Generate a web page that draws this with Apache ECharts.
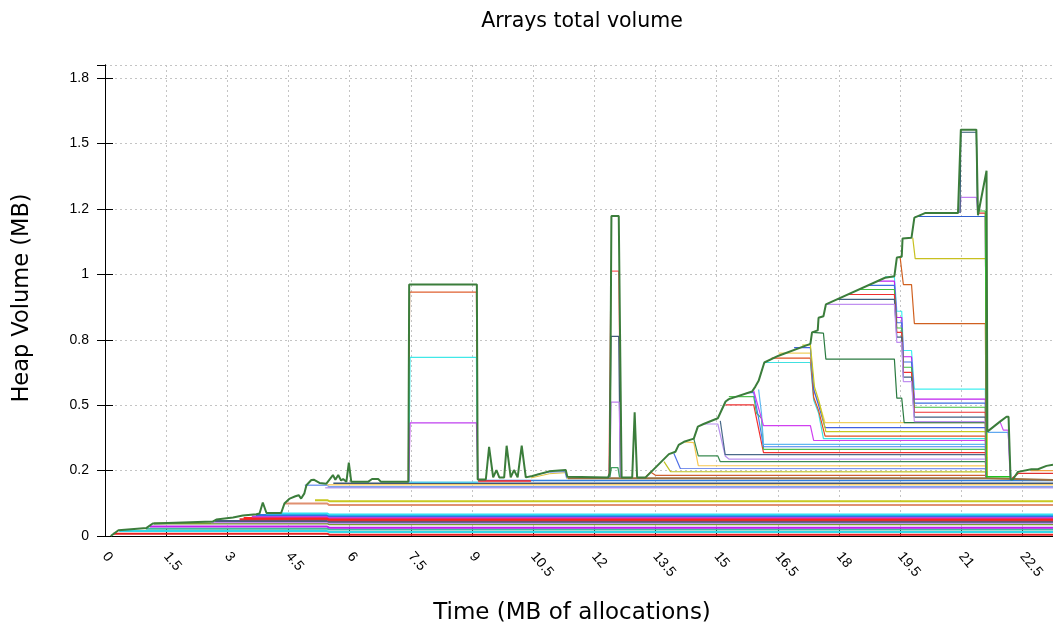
<!DOCTYPE html>
<html>
<head>
<meta charset="utf-8">
<script src="https://cdn.jsdelivr.net/npm/echarts@6/dist/echarts.min.js"></script>
<style>
  html, body { margin: 0; padding: 0; background: #fff; }
  #chart { width: 1053px; height: 629px; }
</style>
</head>
<body>
<div id="chart"></div>
<script>
// y tick labels as printed on the original plot (ticks every 0.25 MB)
var yTickLabels = ['0', '0.2', '0.5', '0.8', '1', '1.2', '1.5', '1.8'];

// ---- total volume (top line) : [MB of allocations, MB]
var totalVolume = [[0.14,0],[0.33,0.022],[1.02,0.031],[1.17,0.048],[2.64,0.055],[2.73,0.063],[3.14,0.071],[3.38,0.078],
  [3.71,0.083],[3.79,0.086],[3.87,0.128],[3.96,0.088],[4.32,0.088],[4.40,0.124],[4.53,0.143],[4.67,0.152],[4.75,0.156],
  [4.81,0.143],[4.89,0.163],[4.94,0.194],[5.06,0.214],[5.12,0.215],[5.26,0.203],[5.43,0.200],[5.59,0.233],[5.65,0.215],
  [5.72,0.233],[5.79,0.212],[5.84,0.218],[5.92,0.207],[5.98,0.28],[6.04,0.207],[6.45,0.207],[6.55,0.218],[6.70,0.218],
  [6.77,0.207],[7.44,0.207],[7.46,0.961],[9.12,0.961],[9.14,0.216],[9.34,0.216],[9.42,0.341],[9.52,0.224],[9.60,0.252],
  [9.67,0.224],[9.79,0.224],[9.85,0.345],[9.95,0.224],[10.03,0.252],[10.12,0.224],[10.22,0.345],[10.32,0.224],
  [10.48,0.229],[10.89,0.247],[11.30,0.252],[11.34,0.226],[12.34,0.224],[12.38,0.24],[12.42,1.223],[12.60,1.223],
  [12.67,0.224],[12.93,0.224],[12.99,0.473],[13.05,0.224],[13.26,0.224],[13.83,0.313],[13.99,0.322],[14.07,0.348],
  [14.20,0.36],[14.44,0.372],[14.54,0.418],[14.68,0.428],[15.03,0.45],[15.22,0.514],[15.30,0.523],[15.87,0.552],
  [15.95,0.571],[16.03,0.593],[16.17,0.663],[16.52,0.689],[17.30,0.734],[17.34,0.778],[17.48,0.786],[17.50,0.834],
  [17.62,0.84],[17.68,0.885],[19.13,0.987],[19.36,0.993],[19.42,1.064],[19.54,1.067],[19.56,1.137],[19.78,1.14],
  [19.85,1.217],[20.11,1.234],[20.92,1.234],[20.99,1.553],[21.37,1.553],[21.41,1.226],[21.62,1.396],[21.64,0.399],
  [21.95,0.437],[22.11,0.456],[22.16,0.456],[22.21,0.216],[22.27,0.217],[22.39,0.245],[22.72,0.255],[22.88,0.255],
  [23.09,0.268],[23.25,0.272]];

// ---- long lived arrays near the bottom
var lowRed = [[0.2,0.009],[5.45,0.009],[5.5,0.005],[23.3,0.005]];
var lowCyan = [[0.35,0.019],[5.45,0.019],[5.5,0.015],[23.3,0.015]];
var lowTeal = [[1.0,0.028],[5.45,0.028],[5.5,0.025],[23.3,0.025]];
var lowMagenta = [[1.1,0.036],[5.45,0.036],[5.5,0.032],[23.3,0.032]];
var lowOlive = [[1.2,0.048],[5.45,0.048],[5.5,0.045],[23.3,0.045]];
var lowLilac = [[2.6,0.053],[5.45,0.053],[5.5,0.050],[23.3,0.050]];
var lowSlate = [[2.7,0.057],[5.45,0.057],[5.5,0.054],[23.3,0.054]];
var lowRed2 = [[3.3,0.064],[5.45,0.064],[5.5,0.060],[23.3,0.060]];
var lowRed3 = [[3.4,0.069],[5.45,0.069],[5.5,0.065],[23.3,0.065]];
var lowMagenta2 = [[3.6,0.075],[5.45,0.075],[5.5,0.071],[23.3,0.071]];
var lowBlue = [[3.7,0.080],[5.45,0.080],[5.5,0.076],[23.3,0.076]];
var lowCyan2 = [[3.95,0.086],[5.45,0.086],[5.5,0.082],[23.3,0.082]];
var midSalmon = [[4.4,0.124],[5.45,0.124],[5.5,0.118],[23.3,0.118]];
var midOlive = [[5.15,0.137],[5.45,0.137],[5.5,0.133],[23.3,0.133]];
var baseLightBlue = [[4.9,0.194],[5.45,0.194],[5.5,0.188],[23.3,0.188]];
var baseLilac = [[5.4,0.184],[23.3,0.184]];
var baseYellow = [[5.45,0.196],[23.3,0.196]];
var baseSlate = [[5.6,0.202],[23.3,0.202]];
var baseCyan = [[7.45,0.205],[9.15,0.205]];
var baseBlue = [[9.15,0.212],[23.3,0.212]];
var baseRed = [[9.15,0.21],[10.45,0.21]];
var baseBrown = [[11.35,0.221],[21.6,0.221],[21.64,0.214],[23.3,0.214]];
var bumpYellow = [[10.45,0.222],[10.9,0.238],[11.3,0.242],[11.34,0.218]];
var bumpBlue = [[10.6,0.236],[10.9,0.244],[11.28,0.246],[11.32,0.22]];

// ---- block at 7.5 - 9
var boxOrange = [[7.44,0.207],[7.47,0.932],[9.11,0.932],[9.14,0.216]];
var boxCyan = [[7.45,0.207],[7.48,0.683],[9.11,0.683],[9.14,0.216]];
var boxPurple = [[7.45,0.207],[7.48,0.432],[9.11,0.432],[9.15,0.216]];

// ---- spike at 12.5
var spikeRed = [[12.36,0.224],[12.41,1.012],[12.60,1.012],[12.66,0.224]];
var spikeSlate = [[12.37,0.224],[12.41,0.763],[12.60,0.763],[12.64,0.224]];
var spikePurple = [[12.38,0.224],[12.41,0.512],[12.61,0.512],[12.65,0.224]];
var spikeGreen = [[12.38,0.224],[12.42,0.261],[12.58,0.261],[12.62,0.224]];

// ---- staircase 13.3 - 17.7, freed at 21.6
var stSienna = [[13.26,0.226],[13.38,0.245],[13.50,0.232],[21.59,0.232],[21.62,0.224]];
var stOlive = [[13.71,0.284],[13.87,0.246],[21.59,0.245],[21.62,0.224]];
var stBlue = [[13.95,0.316],[14.11,0.258],[21.59,0.257],[21.62,0.224]];
var stYellow = [[14.22,0.36],[14.44,0.357],[14.55,0.269],[21.59,0.268],[21.62,0.224]];
var stDkGreen = [[14.44,0.372],[14.55,0.306],[15.03,0.306],[15.09,0.284],[21.59,0.284],[21.62,0.224]];
var stLilac = [[14.68,0.428],[15.03,0.428],[15.21,0.306],[15.30,0.294],[21.59,0.294],[21.62,0.224]];
var stSlate = [[15.09,0.44],[15.21,0.311],[21.59,0.311],[21.62,0.224]];
var stRed = [[15.22,0.501],[15.91,0.501],[16.15,0.319],[21.59,0.319],[21.62,0.224]];
var stGreen = [[15.30,0.533],[15.91,0.533],[15.98,0.469],[16.10,0.45],[16.15,0.331],[21.59,0.331],[21.62,0.224]];
var stBlue2 = [[15.74,0.548],[15.91,0.548],[16.03,0.45],[16.15,0.341],[21.59,0.341],[21.62,0.224]];
var stSky = [[16.03,0.56],[16.10,0.47],[16.15,0.350],[21.59,0.350],[21.62,0.224]];
var stMagenta = [[15.91,0.555],[16.15,0.422],[17.30,0.422],[17.38,0.365],[21.59,0.365],[21.62,0.224]];
var upCyan = [[16.17,0.663],[17.30,0.663],[17.38,0.52],[17.50,0.47],[17.62,0.372],[21.59,0.372],[21.62,0.224]];
var upOrange = [[16.35,0.68],[17.30,0.68],[17.38,0.53],[17.50,0.48],[17.66,0.382],[21.59,0.382],[21.62,0.224]];
var upYellow = [[16.52,0.699],[17.30,0.699],[17.40,0.55],[17.55,0.49],[17.66,0.433],[21.59,0.433],[21.62,0.224]];
var upBlue = [[16.9,0.72],[17.30,0.72],[17.38,0.56],[17.50,0.50],[17.66,0.414],[21.59,0.414],[21.62,0.224]];
var upOlive = [[17.1,0.73],[17.30,0.73],[17.40,0.57],[17.52,0.51],[17.68,0.399],[21.59,0.399],[21.62,0.224]];
var upDkGreen = [[17.34,0.778],[17.62,0.775],[17.68,0.676],[19.36,0.676],[19.42,0.527],[19.54,0.527],[19.60,0.433],[21.59,0.433],[21.62,0.224]];

// ---- group allocated 17.7 - 19.1, shrinking in three steps
var grCyan = [[19.13,0.99],[19.36,0.99],[19.42,0.859],[19.54,0.859],[19.58,0.709],[19.78,0.709],[19.85,0.561],[21.59,0.561],[21.62,0.224]];
var grMagenta = [[18.95,0.974],[19.36,0.974],[19.42,0.835],[19.54,0.835],[19.58,0.685],[19.78,0.685],[19.85,0.523],[21.59,0.523],[21.62,0.224]];
var grBlue = [[18.72,0.958],[19.36,0.958],[19.42,0.815],[19.54,0.815],[19.58,0.665],[19.78,0.665],[19.85,0.508],[21.59,0.508],[21.62,0.224]];
var grGreen = [[18.49,0.942],[19.36,0.942],[19.42,0.795],[19.54,0.795],[19.58,0.645],[19.78,0.645],[19.85,0.492],[21.59,0.492],[21.62,0.224]];
var grRed = [[18.22,0.923],[19.36,0.923],[19.42,0.778],[19.54,0.778],[19.58,0.625],[19.78,0.625],[19.85,0.473],[21.59,0.473],[21.62,0.224]];
var grSlate = [[17.95,0.904],[19.36,0.904],[19.42,0.76],[19.54,0.76],[19.58,0.607],[19.78,0.607],[19.85,0.454],[21.59,0.454],[21.62,0.224]];
var grLilac = [[17.68,0.885],[19.36,0.885],[19.42,0.74],[19.54,0.74],[19.58,0.59],[19.78,0.59],[19.85,0.437],[21.59,0.437],[21.62,0.224]];

// ---- top levels 19.5 - 21.6
var topSienna = [[19.50,1.066],[19.58,0.961],[19.78,0.961],[19.85,0.812],[21.59,0.812],[21.62,0.224]];
var topYellow = [[19.81,1.14],[19.87,1.06],[21.62,1.06],[21.64,0.224]];
var topBlue = [[19.87,1.221],[21.59,1.221],[21.62,0.224]];
var topRed = [[21.40,1.234],[21.59,1.234],[21.62,0.224]];
var topGreen = [[21.42,1.242],[21.59,1.242],[21.62,0.224]];
var peakLilac = [[20.97,1.234],[20.99,1.294],[21.37,1.294],[21.41,1.234]];
var peakSlate = [[20.97,1.234],[20.99,1.543],[21.37,1.543],[21.40,1.234]];

// ---- after the big free
var tailSky = [[21.64,0.396],[22.15,0.396],[22.22,0.216]];
var tailPurple = [[21.95,0.437],[22.03,0.405],[22.15,0.405],[22.2,0.22]];
var tailGreen = [[21.62,0.226],[22.2,0.226]];
var tailRed = [[22.25,0.222],[22.4,0.239],[23.3,0.239]];
var tailOrange = [[22.7,0.25],[23.3,0.25]];

// series table: data array, colour, line width
var lineSpecs = [
  [lowRed, '#e82020', 2], [lowCyan, '#30d8e8', 2], [lowTeal, '#40b8a0', 2], [lowMagenta, '#c020f0', 2],
  [lowOlive, '#7a9a30', 2], [lowLilac, '#c090f0', 2], [lowSlate, '#4a5a80', 2], [lowRed2, '#e03030', 2],
  [lowRed3, '#ff2020', 2], [lowMagenta2, '#c040e0', 2], [lowBlue, '#3070e0', 2], [lowCyan2, '#30e0f0', 2],
  [midSalmon, '#e09070', 2], [midOlive, '#c8c820', 2], [baseLilac, '#c0a0f0', 1.5], [baseLightBlue, '#7fa0f0', 1.5],
  [baseYellow, '#f8d070', 1.5], [baseSlate, '#405878', 1.5], [baseCyan, '#50c8e8', 1.5], [baseBlue, '#3080e0', 1.5],
  [baseRed, '#ff2020', 1.5], [baseBrown, '#9a7040', 2], [bumpYellow, '#e0c040', 1], [bumpBlue, '#6080f0', 1],
  [boxOrange, '#e06030', 1.3], [boxCyan, '#40e8e8', 1.3], [boxPurple, '#c040f0', 1.3],
  [spikeRed, '#ff6060', 1.3], [spikeSlate, '#405878', 1.3], [spikePurple, '#c080f0', 1.3], [spikeGreen, '#40a060', 1.3],
  [stSienna, '#d06030', 1.2], [stOlive, '#c0c020', 1.2], [stBlue, '#5070e8', 1.2], [stYellow, '#f8c850', 1.2],
  [stDkGreen, '#3a8a50', 1.2], [stLilac, '#b890f0', 1.2], [stSlate, '#4a6a8a', 1.2], [stRed, '#f03030', 1.2],
  [stGreen, '#50c050', 1.2], [stBlue2, '#4080f0', 1.2], [stSky, '#60b8f0', 1.2], [stMagenta, '#d040f0', 1.2],
  [upCyan, '#40e0e0', 1.2], [upOrange, '#e05020', 1.2], [upYellow, '#f0d060', 1.2], [upBlue, '#4060e0', 1.2],
  [upOlive, '#c8c820', 1.2], [upDkGreen, '#2a7a40', 1.2],
  [grCyan, '#40f0f0', 1.2], [grMagenta, '#c020f0', 1.2], [grBlue, '#4070e0', 1.2], [grGreen, '#40c040', 1.2],
  [grRed, '#f03030', 1.2], [grSlate, '#406080', 1.2], [grLilac, '#c090f0', 1.2],
  [topSienna, '#d06020', 1.2], [topYellow, '#c8c020', 1.2], [topBlue, '#3060d0', 1.2], [topRed, '#e03030', 1.2],
  [topGreen, '#30c030', 1.2], [peakLilac, '#c080f0', 1.2], [peakSlate, '#2f5a70', 1.2],
  [tailSky, '#60a8f0', 1.2], [tailPurple, '#d050f0', 1.2], [tailGreen, '#20c020', 1.5], [tailRed, '#e03030', 1.2],
  [tailOrange, '#f0a040', 1.2]
];

var chart = echarts.init(document.getElementById('chart'));

var series = lineSpecs.map(function (s) {
  return {
    type: 'line', data: s[0], showSymbol: false, animation: false,
    lineStyle: { color: s[1], width: s[2] }
  };
});
series.push({
  type: 'line', data: totalVolume, showSymbol: false, animation: false,
  lineStyle: { color: '#3b7d3b', width: 2 }
});

var tickFont = 'Liberation Sans';
var gridLine = { show: true, lineStyle: { color: '#c4c4c4', type: [2, 3], width: 1 } };

var option = {
  animation: false,
  backgroundColor: '#fff',
  grid: { left: 105, right: -2, top: 65, bottom: 93 },
  xAxis: [{
    type: 'value', min: 0, max: 23.25, interval: 1.5,
    axisLine: { show: true, onZero: false, lineStyle: { color: '#000', width: 1 } },
    axisTick: { show: true, inside: true, length: 8, lineStyle: { color: '#000' } },
    axisLabel: { rotate: -50, margin: 18, color: '#000', fontFamily: tickFont, fontSize: 14, showMaxLabel: false },
    splitLine: gridLine
  }, {
    type: 'value', position: 'top', min: 0, max: 23.25,
    axisLine: { show: true, lineStyle: { color: '#000', width: 1 } },
    axisTick: { show: false }, axisLabel: { show: false }, splitLine: { show: false }
  }],
  yAxis: [{
    type: 'value', min: 0, max: 1.8, interval: 0.25,
    axisLine: { show: true, onZero: false, lineStyle: { color: '#000', width: 1 } },
    axisTick: { show: true, inside: true, length: 8, lineStyle: { color: '#000' } },
    axisLabel: {
      color: '#000', fontFamily: tickFont, fontSize: 14, margin: 16, showMaxLabel: false,
      formatter: function (v) {
        var i = Math.round(v / 0.25);
        return Math.abs(v - i * 0.25) < 1e-6 ? yTickLabels[i] : '';
      }
    },
    splitLine: gridLine
  }, {
    type: 'value', position: 'right', min: 0, max: 1.8, interval: 0.25,
    axisLine: { show: true, lineStyle: { color: '#000', width: 1 } },
    axisTick: { show: true, inside: true, length: 8, lineStyle: { color: '#000' } },
    axisLabel: { show: false }, splitLine: { show: false }
  }],
  graphic: [
    { type: 'text', x: 582, y: 22,
      style: { text: 'Arrays total volume', font: '20.5px "DejaVu Sans"', fill: '#000', textAlign: 'center', textVerticalAlign: 'middle' } },
    { type: 'text', x: 22, y: 298, rotation: Math.PI / 2,
      style: { text: 'Heap Volume (MB)', font: '22.5px "DejaVu Sans"', fill: '#000', textAlign: 'center', textVerticalAlign: 'middle' } },
    { type: 'text', x: 572, y: 613,
      style: { text: 'Time (MB of allocations)', font: '23px "DejaVu Sans"', fill: '#000', textAlign: 'center', textVerticalAlign: 'middle' } }
  ],
  series: series
};

chart.setOption(option);
</script>
</body>
</html>
